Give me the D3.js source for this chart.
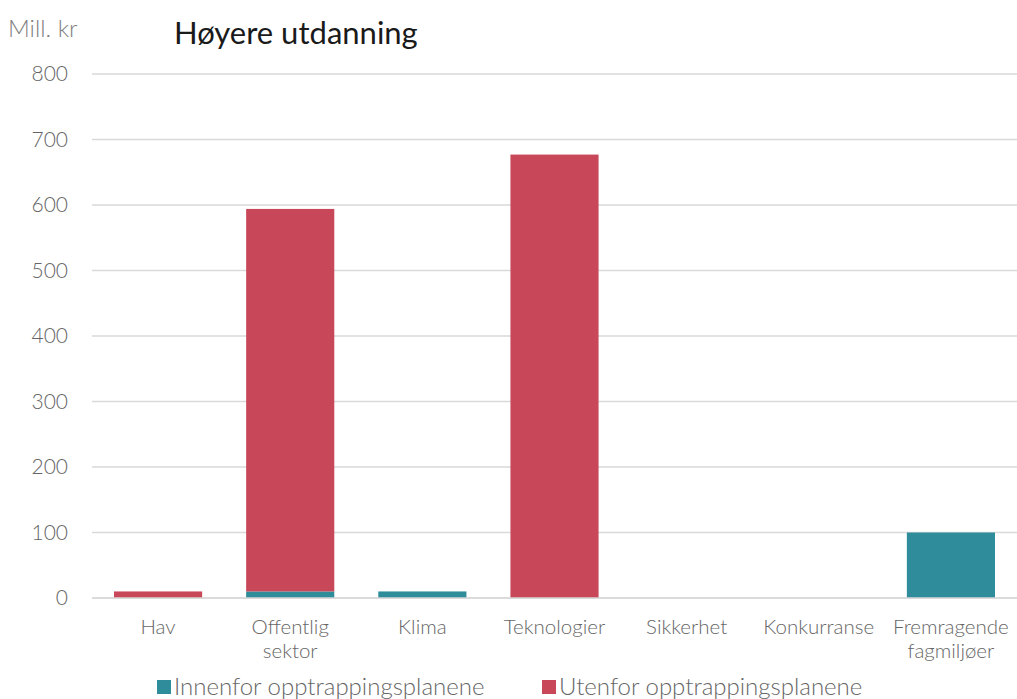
<!DOCTYPE html>
<html>
<head>
<meta charset="utf-8">
<script src="https://cdn.jsdelivr.net/npm/d3@7"></script>
<style>
  body { margin: 0; background: #fff; }
  svg { display: block; font-family: Lato, "Open Sans", sans-serif; }
</style>
</head>
<body>
<svg id="chart" width="1017" height="699"></svg>
<script>
// Høyere utdanning – millioner kroner
const categories = ["Hav", "Offentlig\nsektor", "Klima", "Teknologier", "Sikkerhet", "Konkurranse", "Fremragende\nfagmiljøer"];
const innenfor = [0, 10, 10, 0, 0, 0, 100];
const utenfor = [10, 584, 0, 677, 0, 0, 0];
const yTicks = [0, 100, 200, 300, 400, 500, 600, 700, 800];
const seriesNames = ["Innenfor opptrappingsplanene", "Utenfor opptrappingsplanene"];
const colors = ["#2E8C9B", "#C8485A"];

const width = 1017, height = 699;
const margin = { top: 74, right: 0, bottom: 101, left: 92 };

const svg = d3.select("#chart");

const x = d3.scaleBand()
  .domain(categories)
  .range([margin.left, width - margin.right])
  .paddingInner(0.333)
  .paddingOuter(0.1665);

const y = d3.scaleLinear()
  .domain([0, 800])
  .range([height - margin.bottom, margin.top]);

// gridlines
svg.append("g")
  .selectAll("line")
  .data(yTicks)
  .join("line")
  .attr("x1", margin.left)
  .attr("x2", width - margin.right)
  .attr("y1", d => y(d))
  .attr("y2", d => y(d))
  .attr("stroke", "#d9d9d9")
  .attr("stroke-width", 1.5);

// y axis labels
const yAxis = svg.append("g")
  .attr("transform", `translate(${margin.left},0)`)
  .call(d3.axisLeft(y).tickValues(yTicks).tickSize(0).tickPadding(24));
yAxis.select(".domain").remove();
yAxis.selectAll("text")
  .attr("fill", "#666")
  .style("font-size", "21px")
  .style("font-weight", "300")
  .style("font-family", "Lato, 'Open Sans', sans-serif");

// stacked bars
const stacked = d3.stack().keys([0, 1])(categories.map((c, i) => ({ 0: innenfor[i], 1: utenfor[i], cat: c })));

svg.append("g")
  .selectAll("g")
  .data(stacked)
  .join("g")
  .attr("fill", (d, i) => colors[i])
  .selectAll("rect")
  .data(d => d)
  .join("rect")
  .attr("x", d => x(d.data.cat))
  .attr("width", x.bandwidth())
  .attr("y", d => y(d[1]))
  .attr("height", d => y(d[0]) - y(d[1]));

// baseline
svg.append("line")
  .attr("x1", margin.left)
  .attr("x2", width - margin.right)
  .attr("y1", y(0))
  .attr("y2", y(0))
  .attr("stroke", "#d9d9d9")
  .attr("stroke-width", 1.5);

// category labels
const xLabels = svg.append("g")
  .selectAll("text")
  .data(categories)
  .join("text")
  .attr("x", d => x(d) + x.bandwidth() / 2)
  .attr("y", y(0) + 36)
  .attr("text-anchor", "middle")
  .attr("fill", "#666")
  .style("font-size", "20.5px")
  .style("font-weight", "300");
xLabels.selectAll("tspan")
  .data(d => d.split("\n"))
  .join("tspan")
  .attr("x", function () { return d3.select(this.parentNode).attr("x"); })
  .attr("dy", (d, i) => i === 0 ? 0 : 24)
  .text(d => d);

// title and unit
svg.append("text")
  .attr("x", 174)
  .attr("y", 44)
  .attr("fill", "#1a1a1a")
  .style("font-size", "31px")
  .text("Høyere utdanning");

svg.append("text")
  .attr("x", 8)
  .attr("y", 37)
  .attr("fill", "#808080")
  .style("font-size", "24px")
  .style("font-weight", "300")
  .text("Mill. kr");

// legend
const legendX = [157, 542];
const legend = svg.append("g")
  .selectAll("g")
  .data(seriesNames)
  .join("g")
  .attr("transform", (d, i) => `translate(${legendX[i]},680)`);
legend.append("rect")
  .attr("width", 14)
  .attr("height", 14)
  .attr("fill", (d, i) => colors[i]);
legend.append("text")
  .attr("x", 17)
  .attr("y", 15)
  .attr("fill", "#666")
  .style("font-size", "24px")
  .style("font-weight", "300")
  .text(d => d);
</script>
</body>
</html>
